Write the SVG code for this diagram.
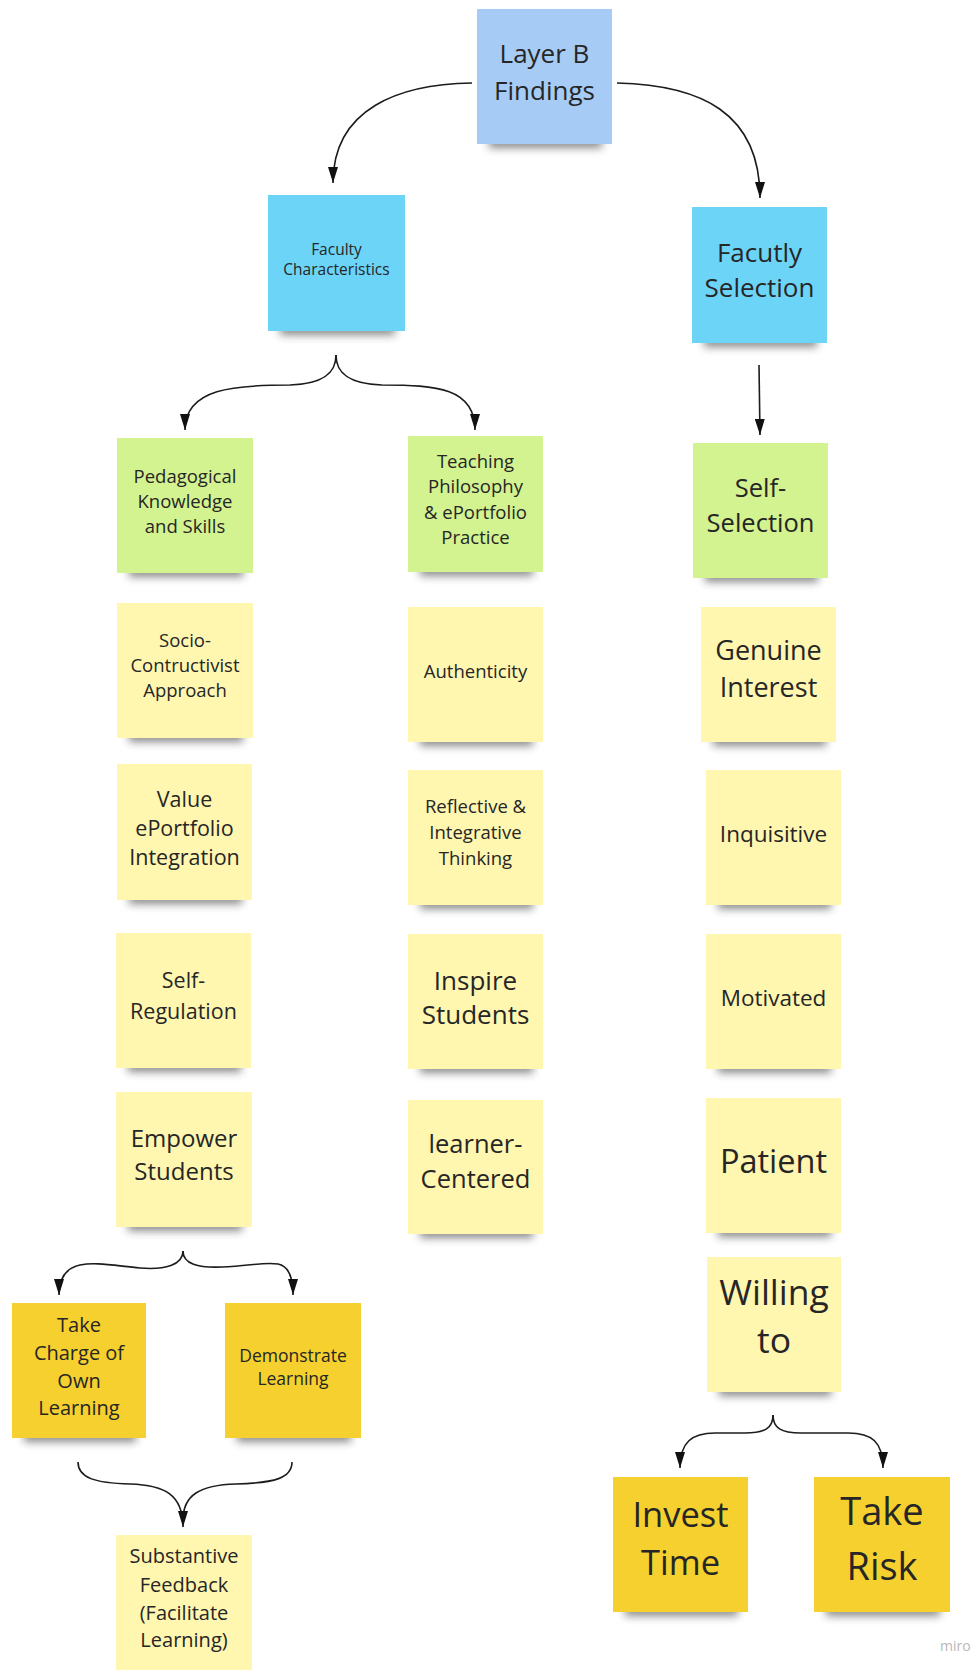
<svg xmlns="http://www.w3.org/2000/svg" width="971" height="1670" viewBox="0 0 971 1670">
<defs>
<style>
.bg{fill:#ffffff}
.note{stroke:none}
.lb{fill:#a6ccf5}
.cy{fill:#6cd4f7}
.lg{fill:#d3f290}
.ly{fill:#fff6b0}
.yw{fill:#f5d02e}
.sh{fill:#2a2a2a;opacity:.55;filter:url(#blur)}
.t{font-family:"Open Sans","Noto Sans","DejaVu Sans",sans-serif;fill:#262626;text-anchor:middle}
.c{fill:none;stroke:#1c1c1c;stroke-width:1.6}
.miro{font-family:"Open Sans","Noto Sans",sans-serif;font-size:14px;fill:#b8b8b8}
</style>
<filter id="blur" x="-20%" y="-100%" width="140%" height="300%"><feGaussianBlur stdDeviation="4"/></filter>
<marker id="ah" viewBox="0 0 16 10" refX="16" refY="5" markerWidth="16" markerHeight="10" markerUnits="userSpaceOnUse" orient="auto"><path d="M0,0 L16,5 L0,10 z" fill="#111"/></marker>
</defs>
<rect class="bg" x="0" y="0" width="971" height="1670"/>

<g id="connectors">
<path class="c" d="M472,83 C400,84 333,108 333,183" marker-end="url(#ah)"/>
<path class="c" d="M617,83 C700,85 760,112 760,198" marker-end="url(#ah)"/>
<path class="c" d="M759,365 L760,435" marker-end="url(#ah)"/>
<path class="c" d="M336,355 C336,372 325,384 290,385 C235,385 185,388 185,430" marker-end="url(#ah)"/>
<path class="c" d="M336,355 C336,372 347,384 382,385 C437,385 475,388 475,430" marker-end="url(#ah)"/>
<path class="c" d="M183,1251 C183,1265 165,1270 140,1268 C110,1265 95,1262 80,1265 C66,1268 59,1278 59,1295" marker-end="url(#ah)"/>
<path class="c" d="M183,1251 C183,1264 198,1268 222,1267 C250,1266 262,1262 278,1264 C289,1266 293,1278 293,1295" marker-end="url(#ah)"/>
<path class="c" d="M292,1462 C292,1478 275,1483 236,1484 C200,1485 183,1495 183,1520"/>
<path class="c" d="M78,1462 C78,1478 95,1483 130,1484 C165,1485 183,1495 183,1527" marker-end="url(#ah)"/>
<path class="c" d="M773,1415 C773,1428 765,1433 745,1433 L715,1433 C692,1433 680,1442 680,1468" marker-end="url(#ah)"/>
<path class="c" d="M773,1415 C773,1428 781,1433 801,1433 L848,1433 C872,1433 883,1442 883,1468" marker-end="url(#ah)"/>
</g>

<g id="layer-b-findings">
<rect class="sh" x="489" y="136" width="113" height="12"/>
<rect class="note lb" x="477" y="9" width="135" height="135"/>
<text class="t" font-size="26" x="544.5"><tspan x="544.5" y="63">Layer B</tspan><tspan x="544.5" y="100">Findings</tspan></text>
</g>

<g id="faculty-characteristics">
<rect class="sh" x="280" y="323" width="115" height="12"/>
<rect class="note cy" x="268" y="195" width="137" height="136"/>
<text class="t" font-size="15.5"><tspan x="336.5" y="255">Faculty</tspan><tspan x="336.5" y="275">Characteristics</tspan></text>
</g>

<g id="facutly-selection">
<rect class="sh" x="704" y="335" width="113" height="12"/>
<rect class="note cy" x="692" y="207" width="135" height="136"/>
<text class="t" font-size="26"><tspan x="759.5" y="262">Facutly</tspan><tspan x="759.5" y="297">Selection</tspan></text>
</g>

<g id="pedagogical">
<rect class="sh" x="129" y="565" width="114" height="12"/>
<rect class="note lg" x="117" y="438" width="136" height="135"/>
<text class="t" font-size="18.5"><tspan x="185" y="483">Pedagogical</tspan><tspan x="185" y="508">Knowledge</tspan><tspan x="185" y="533">and Skills</tspan></text>
</g>

<g id="teaching-philosophy">
<rect class="sh" x="420" y="564" width="113" height="12"/>
<rect class="note lg" x="408" y="436" width="135" height="136"/>
<text class="t" font-size="18.5"><tspan x="475.5" y="468">Teaching</tspan><tspan x="475.5" y="493">Philosophy</tspan><tspan x="475.5" y="519">&amp; ePortfolio</tspan><tspan x="475.5" y="544">Practice</tspan></text>
</g>

<g id="self-selection">
<rect class="sh" x="705" y="570" width="113" height="12"/>
<rect class="note lg" x="693" y="443" width="135" height="135"/>
<text class="t" font-size="25.5"><tspan x="760.5" y="497">Self-</tspan><tspan x="760.5" y="532">Selection</tspan></text>
</g>

<g id="socio-contructivist">
<rect class="sh" x="129" y="730" width="114" height="12"/>
<rect class="note ly" x="117" y="603" width="136" height="135"/>
<text class="t" font-size="18.5"><tspan x="185" y="647">Socio-</tspan><tspan x="185" y="672">Contructivist</tspan><tspan x="185" y="697">Approach</tspan></text>
</g>

<g id="authenticity">
<rect class="sh" x="420" y="734" width="113" height="12"/>
<rect class="note ly" x="408" y="607" width="135" height="135"/>
<text class="t" font-size="18.5" x="475.5" y="678">Authenticity</text>
</g>

<g id="genuine-interest">
<rect class="sh" x="713" y="734" width="113" height="12"/>
<rect class="note ly" x="701" y="607" width="135" height="135"/>
<text class="t" font-size="27"><tspan x="768.5" y="660">Genuine</tspan><tspan x="768.5" y="697">Interest</tspan></text>
</g>

<g id="value-eportfolio">
<rect class="sh" x="129" y="892" width="113" height="12"/>
<rect class="note ly" x="117" y="764" width="135" height="136"/>
<text class="t" font-size="21.5"><tspan x="184.5" y="807">Value</tspan><tspan x="184.5" y="836">ePortfolio</tspan><tspan x="184.5" y="865">Integration</tspan></text>
</g>

<g id="reflective-integrative">
<rect class="sh" x="420" y="897" width="113" height="12"/>
<rect class="note ly" x="408" y="770" width="135" height="135"/>
<text class="t" font-size="18.5"><tspan x="475.5" y="813">Reflective &amp;</tspan><tspan x="475.5" y="839">Integrative</tspan><tspan x="475.5" y="865">Thinking</tspan></text>
</g>

<g id="inquisitive">
<rect class="sh" x="718" y="897" width="113" height="12"/>
<rect class="note ly" x="706" y="770" width="135" height="135"/>
<text class="t" font-size="22.5" x="773.5" y="842">Inquisitive</text>
</g>

<g id="self-regulation">
<rect class="sh" x="128" y="1060" width="113" height="12"/>
<rect class="note ly" x="116" y="933" width="135" height="135"/>
<text class="t" font-size="21.5"><tspan x="183.5" y="988">Self-</tspan><tspan x="183.5" y="1019">Regulation</tspan></text>
</g>

<g id="inspire-students">
<rect class="sh" x="420" y="1061" width="113" height="12"/>
<rect class="note ly" x="408" y="934" width="135" height="135"/>
<text class="t" font-size="26"><tspan x="475.5" y="990">Inspire</tspan><tspan x="475.5" y="1024">Students</tspan></text>
</g>

<g id="motivated">
<rect class="sh" x="718" y="1061" width="113" height="12"/>
<rect class="note ly" x="706" y="934" width="135" height="135"/>
<text class="t" font-size="22.5" x="773.5" y="1006">Motivated</text>
</g>

<g id="empower-students">
<rect class="sh" x="128" y="1219" width="114" height="12"/>
<rect class="note ly" x="116" y="1092" width="136" height="135"/>
<text class="t" font-size="24"><tspan x="184" y="1147">Empower</tspan><tspan x="184" y="1180">Students</tspan></text>
</g>

<g id="learner-centered">
<rect class="sh" x="420" y="1226" width="113" height="12"/>
<rect class="note ly" x="408" y="1100" width="135" height="134"/>
<text class="t" font-size="25.5"><tspan x="475.5" y="1153">learner-</tspan><tspan x="475.5" y="1188">Centered</tspan></text>
</g>

<g id="patient">
<rect class="sh" x="718" y="1225" width="113" height="12"/>
<rect class="note ly" x="706" y="1098" width="135" height="135"/>
<text class="t" font-size="32.5" x="773.5" y="1173">Patient</text>
</g>

<g id="willing-to">
<rect class="sh" x="719" y="1384" width="112" height="12"/>
<rect class="note ly" x="707" y="1257" width="134" height="135"/>
<text class="t" font-size="35.5"><tspan x="774" y="1305">Willing</tspan><tspan x="774" y="1353">to</tspan></text>
</g>

<g id="take-charge">
<rect class="sh" x="24" y="1430" width="112" height="12"/>
<rect class="note yw" x="12" y="1303" width="134" height="135"/>
<text class="t" font-size="20"><tspan x="79" y="1332">Take</tspan><tspan x="79" y="1360">Charge of</tspan><tspan x="79" y="1388">Own</tspan><tspan x="79" y="1415">Learning</tspan></text>
</g>

<g id="demonstrate-learning">
<rect class="sh" x="237" y="1430" width="114" height="12"/>
<rect class="note yw" x="225" y="1303" width="136" height="135"/>
<text class="t" font-size="17.5"><tspan x="293" y="1362">Demonstrate</tspan><tspan x="293" y="1385">Learning</tspan></text>
</g>

<g id="substantive-feedback">
<rect class="note ly" x="116" y="1535" width="136" height="135"/>
<text class="t" font-size="20"><tspan x="184" y="1563">Substantive</tspan><tspan x="184" y="1592">Feedback</tspan><tspan x="184" y="1620">(Facilitate</tspan><tspan x="184" y="1647">Learning)</tspan></text>
</g>

<g id="invest-time">
<rect class="sh" x="625" y="1604" width="113" height="12"/>
<rect class="note yw" x="613" y="1477" width="135" height="135"/>
<text class="t" font-size="34.5"><tspan x="680.5" y="1527">Invest</tspan><tspan x="680.5" y="1575">Time</tspan></text>
</g>

<g id="take-risk">
<rect class="sh" x="826" y="1604" width="114" height="12"/>
<rect class="note yw" x="814" y="1477" width="136" height="135"/>
<text class="t" font-size="38"><tspan x="882" y="1525">Take</tspan><tspan x="882" y="1580">Risk</tspan></text>
</g>

<text class="miro" x="940" y="1651">miro</text>
</svg>
